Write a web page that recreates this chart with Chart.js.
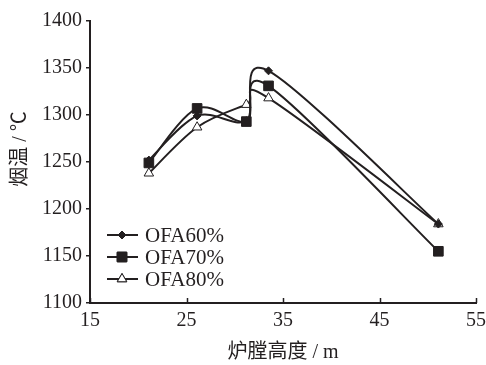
<!DOCTYPE html>
<html>
<head>
<meta charset="utf-8">
<script src="https://cdn.jsdelivr.net/npm/chart.js@4/dist/chart.umd.min.js"></script>
<style>
  html, body { margin: 0; padding: 0; background: #fff; }
  #chart-box { width: 486px; height: 365px; }
</style>
</head>
<body>
<div id="chart-box"><canvas id="chart" width="486" height="365"></canvas></div>
<script>
// furnace height (m) for each measuring point
const heights = [21.1, 26.1, 31.2, 33.5, 51.1];
const seriesNames = ['OFA60%', 'OFA70%', 'OFA80%'];
const ofa60 = [1252, 1299, 1294, 1347, 1184];
const ofa70 = [1249, 1307, 1293, 1331, 1155];
const ofa80 = [1238, 1287, 1311, 1318, 1184];
const xTicks = [15, 25, 35, 45, 55];
const yTicks = [1100, 1150, 1200, 1250, 1300, 1350, 1400];
const xTitle = '炉膛高度 / m';
const yTitle = '烟温 / ℃';

const INK = '#231f20';
const FONT = '"Liberation Serif", "Noto Sans CJK SC", serif';

const toPoints = (values) => values.map((v, i) => ({x: heights[i], y: v}));

const styles = [
    {pointStyle: 'rectRot', pointRadius: 4, fill: INK},
    {pointStyle: 'rect', pointRadius: 6.8, fill: INK},
    {pointStyle: 'triangle', pointRadius: 5.5, fill: '#fff'}
];

const datasets = [ofa60, ofa70, ofa80].map((values, i) => {
    const s = styles[i];
    return {
        label: seriesNames[i],
        data: toPoints(values),
        borderColor: INK,
        borderWidth: 2,
        tension: 0.4,
        pointStyle: s.pointStyle,
        pointRadius: s.pointRadius,
        pointBackgroundColor: s.fill,
        pointBorderColor: INK,
        pointBorderWidth: 1
    }
});

// excel style smoothing: control points from neighbours, not scaled by distance
const excelSmooth = {
    id: 'excelSmooth',
    beforeDatasetsDraw(chart) {
        chart.data.datasets.forEach((ds, i) => {
            const meta = chart.getDatasetMeta(i);
            meta.dataset.updateControlPoints(chart.chartArea, 'x');
            const pts = meta.data;
            pts.forEach((p, j) => {
                const prev = pts[Math.max(j - 1, 0)];
                const next = pts[Math.min(j + 1, pts.length - 1)];
                const dx = (next.x - prev.x) / 6;
                const dy = (next.y - prev.y) / 6;
                p.cp1x = p.x - dx;
                p.cp1y = p.y - dy;
                p.cp2x = p.x + dx;
                p.cp2y = p.y + dy;
            });
        });
    }
};

// x ticks point into the plot, chart.js can't do that by itself
const innerTicks = {
    id: 'innerTicks',
    afterDraw(chart) {
        const ctx = chart.ctx;
        const xs = chart.scales.x;
        const bottom = chart.chartArea.bottom;
        ctx.save();
        ctx.strokeStyle = INK;
        ctx.lineWidth = 1.5;
        xTicks.forEach(t => {
            const px = Math.round(xs.getPixelForValue(t)) + 0.5;
            ctx.beginPath();
            ctx.moveTo(px, bottom);
            ctx.lineTo(px, bottom - 5);
            ctx.stroke();
        });
        ctx.restore();
    }
};

// y title sits a bit above the middle in the original
const yAxisTitle = {
    id: 'yAxisTitle',
    afterDraw(chart) {
        const ctx = chart.ctx;
        ctx.save();
        ctx.translate(21, 149);
        ctx.rotate(-Math.PI / 2);
        ctx.font = '20px ' + FONT;
        ctx.fillStyle = INK;
        ctx.textAlign = 'center';
        ctx.textBaseline = 'middle';
        ctx.fillText(yTitle, 0, 0);
        ctx.restore();
    }
};

// legend with a line through the marker, placed inside the plot
const lineLegend = {
    id: 'lineLegend',
    afterDraw(chart) {
        const ctx = chart.ctx;
        const rows = [235, 257, 279];
        ctx.save();
        chart.data.datasets.forEach((ds, i) => {
            const y = rows[i];
            ctx.strokeStyle = INK;
            ctx.lineWidth = 2;
            ctx.beginPath();
            ctx.moveTo(107, y);
            ctx.lineTo(138, y);
            ctx.stroke();
            ctx.fillStyle = ds.pointBackgroundColor;
            ctx.lineWidth = 1;
            Chart.helpers.drawPoint(ctx, {pointStyle: ds.pointStyle, rotation: 0, borderWidth: 1, radius: ds.pointRadius}, 122, y);
            ctx.fill();
            ctx.stroke();
            ctx.fillStyle = INK;
            ctx.font = '21px ' + FONT;
            ctx.textAlign = 'left';
            ctx.textBaseline = 'middle';
            ctx.fillText(ds.label, 145, y + 1);
        });
        ctx.restore();
    }
};

const ctx = document.getElementById('chart').getContext('2d');
new Chart(ctx, {
    type: 'line',
    data: {datasets: datasets},
    options: {
        responsive: false,
        animation: false,
        devicePixelRatio: 1,
        layout: {padding: {top: 21, right: 0, left: 0, bottom: 0}},
        plugins: {
            legend: {display: false},
            tooltip: {enabled: false}
        },
        scales: {
            x: {
                type: 'linear',
                min: 15,
                max: 55,
                afterBuildTicks: (scale) => { scale.ticks = xTicks.map(v => ({value: v})) },
                afterFit: (scale) => { scale.height = 62; scale.paddingRight = 10 },
                grid: {drawOnChartArea: false, drawTicks: false},
                border: {color: INK, width: 2},
                ticks: {color: INK, font: {family: FONT, size: 20}, padding: 6, maxRotation: 0, callback: (v) => String(v)},
                title: {display: true, text: xTitle, color: INK, font: {family: FONT, size: 20}, padding: {top: 0, bottom: 0}}
            },
            y: {
                min: 1100,
                max: 1400,
                afterBuildTicks: (scale) => { scale.ticks = yTicks.map(v => ({value: v})) },
                afterFit: (scale) => { scale.width = 90 },
                grid: {drawOnChartArea: false, tickLength: 4, color: INK, lineWidth: 1.5},
                border: {color: INK, width: 2},
                ticks: {color: INK, font: {family: FONT, size: 20}, padding: 4, callback: (v) => String(v)}
            }
        }
    },
    plugins: [excelSmooth, innerTicks, yAxisTitle, lineLegend]
});
</script>
</body>
</html>
